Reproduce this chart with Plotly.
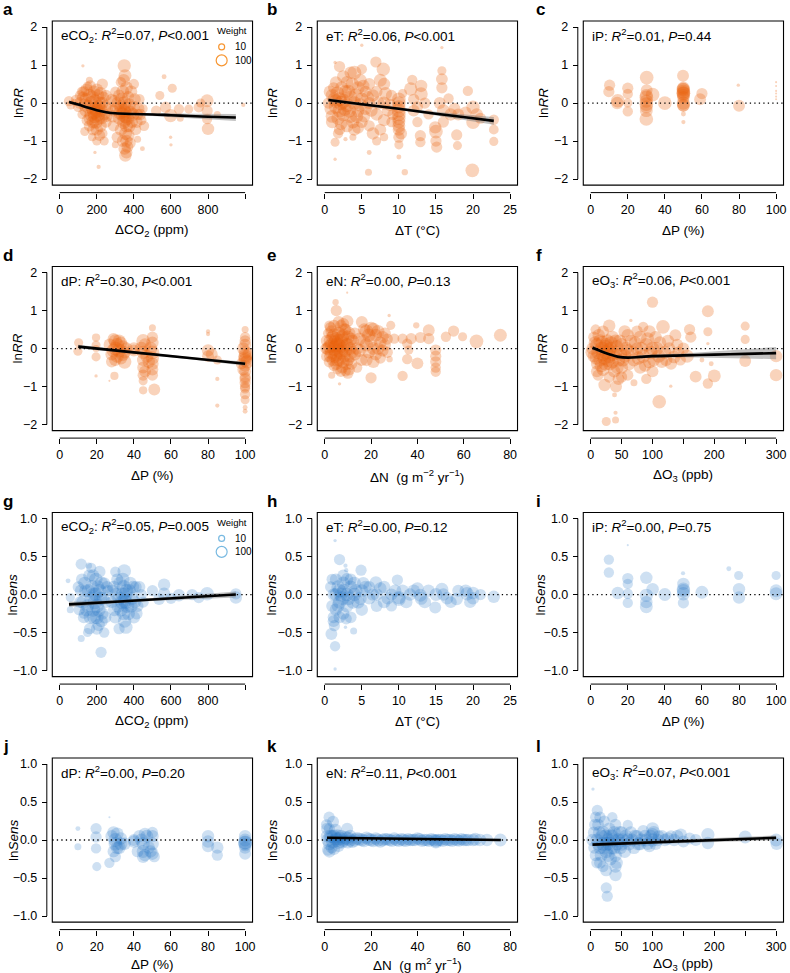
import math
import plotly.graph_objects as go

# ---------------- DATA (x, y, weight) ----------------
a_pts = [(50,0.05,30),(60,-0.05,20),(90,0.08,40),(100,-0.1,30),(110,0.0,50),(120,-0.3,20),(80,0.02,10),
 (130,0.3,40),(140,0.1,60),(140,-0.2,60),(150,-0.45,50),(150,0.45,20),(160,0.2,80),(160,-0.6,40),(170,0.0,100),
 (170,-0.3,90),(180,-0.15,100),(185,-0.25,100),(190,-0.35,100),(190,0.05,90),(195,-0.5,80),(200,-0.7,60),
 (200,0.35,60),(200,-0.2,100),(210,-0.1,90),(210,-0.4,80),(215,-0.85,40),(220,0.25,70),(220,-0.6,60),
 (230,0.0,60),(230,0.5,40),(240,-0.3,50),(240,-1.0,20),(250,0.2,40),(250,-0.5,40),(260,-0.15,30),
 (125,0.98,3),(210,-1.68,4),(160,0.6,10),(135,-0.75,20),(175,-0.9,15),(190,-1.3,3),
 (125,0.15,50),(135,-0.05,70),(145,0.35,60),(155,-0.1,90),(165,-0.4,80),(175,0.15,90),(180,-0.5,70),
 (185,0.3,60),(195,-0.15,110),(205,-0.3,110),(205,0.2,70),(215,0.0,80),(225,-0.2,80),(225,-0.4,60),
 (235,0.15,50),(245,-0.1,60),(255,-0.35,40),(180,-0.7,50),(165,0.45,40),(200,-1.0,20),(230,-0.8,30),
 (120,0.3,30),(110,0.2,30),
 (280,0.1,40),(290,-0.2,50),(290,-0.6,40),(300,0.3,30),(310,-0.9,40),(320,-0.4,60),(320,0.2,50),(330,-0.1,80),
 (340,-0.3,100),(345,-0.2,100),(350,-0.45,100),(350,0.0,90),(355,-0.35,100),(360,-0.6,80),(360,0.4,70),
 (348,0.98,80),(352,0.72,70),(355,-0.8,70),(360,-1.0,60),(354,-1.38,60),(365,-1.15,50),(370,0.15,60),
 (380,-0.25,80),(390,-0.5,50),(400,-0.1,50),(400,0.5,30),(410,-0.7,40),(420,-0.3,40),(430,0.1,30),
 (440,-0.45,30),(446,-1.2,5),(450,-0.15,20),(300,-1.1,10),(330,0.55,30),(420,-0.95,10),
 (285,-0.35,60),(295,0.05,60),(305,-0.15,70),(315,0.0,80),(325,-0.25,90),(335,0.1,80),(345,-0.5,90),
 (350,-0.25,110),(360,-0.15,100),(365,-0.4,90),(375,-0.05,80),(375,-0.6,70),(385,0.3,60),(395,-0.3,70),
 (405,0.1,50),(415,-0.5,50),(425,-0.15,50),(435,-0.3,40),(455,-0.6,30),(340,0.3,70),(345,0.6,60),
 (330,-0.7,60),(370,-0.85,60),(380,-1.05,40),(340,-1.0,50),(350,-1.2,60),(360,-1.3,50),
 (563,0.69,5),(607,0.39,20),(571,-0.11,40),(598,-0.33,80),(643,-0.16,30),(696,-0.16,20),(750,-0.11,30),
 (795,0.06,70),(795,-0.2,40),(795,-0.42,30),(800,-0.68,60),(598,-0.9,3),(600,-1.1,3),(990,-0.05,4),
 (520,-0.2,30),(540,0.2,20),(650,-0.4,10),(760,0.0,20),(850,-0.3,10)]
a_fit_x = [50, 100, 150, 200, 250, 300, 400, 500, 600, 700, 800, 950]
a_fit_y = [0.03, -0.04, -0.12, -0.19, -0.24, -0.27, -0.29, -0.30, -0.32, -0.34, -0.36, -0.38]
a_fit_se = [0.04, 0.03, 0.03, 0.03, 0.03, 0.03, 0.03, 0.04, 0.05, 0.06, 0.07, 0.09]

b_pts = [(0.5,0.0,40),(0.8,-0.15,60),(1,0.2,70),(1,-0.5,60),(1.2,0.4,40),(1.4,1.07,3),(1.4,-1.03,20),
 (1.4,-1.48,3),(1.5,-0.1,100),(1.5,0.05,90),(2,0.96,40),(2,0.1,100),(2,-0.2,100),(2.2,0.0,120),(2.5,0.05,120),
 (2.5,-0.3,90),(2.8,0.3,80),(3,-0.05,100),(3,-0.6,70),(3,0.55,60),(3.5,0.15,90),(3.5,-0.35,80),(4,0.8,100),
 (4,0.0,90),(4,-0.7,60),(4.5,0.4,80),(4.5,-0.2,70),(5,0.89,30),(5,0.1,80),(5,-0.5,50),(5,1.52,3),(5.5,-0.15,60),
 (5.5,0.3,50),(6,-0.6,40),(6,0.0,50),(5.9,-1.82,10),(6,-1.3,5),(3.8,-0.9,10),(2.8,-0.95,4),(1.8,-0.8,30),
 (0.7,0.3,60),(1,-0.35,70),(1.3,0.1,90),(1.7,0.25,100),(1.8,-0.4,80),(2.2,-0.55,60),(2.3,0.4,80),
 (2.7,-0.15,110),(3.2,0.3,90),(3.3,-0.2,100),(3.7,0.5,80),(3.8,-0.5,70),(4.2,0.2,90),(4.3,-0.35,80),
 (4.8,0.6,70),(4.8,-0.05,80),(5.2,0.45,60),(5.3,-0.35,60),(5.8,0.15,60),(6,0.5,50),(1.5,0.55,50),
 (2.5,0.7,60),(3.5,0.8,60),(4.5,-0.65,50),(2,-0.7,40),
 (6.9,1.08,40),(7.9,0.89,80),(7,-0.3,60),(7,0.3,50),(7.5,-0.7,50),(8,0.0,70),(8,0.5,60),(8.5,-0.2,50),
 (9,0.2,40),(9,-0.5,30),(6.5,-0.8,60),(6.3,-0.2,60),(6.5,0.2,60),(7.2,0.0,70),(7.5,0.6,70),(8,-0.45,60),
 (8.2,0.25,70),(8.8,-0.05,60),(9.2,-0.3,40),(7,-1.0,20),(8,-0.9,15),
 (10,0.1,90),(10,-0.1,80),(10,-0.3,90),(10,-0.5,70),(10,-0.7,60),(10,-0.9,40),(10,-1.1,20),(10,-1.42,5),
 (10.8,-1.82,8),(10.5,0.25,20),(10,0.0,90),(10,-0.2,90),(10,-0.4,80),(10,-0.6,70),(10.3,-0.8,50),
 (11.8,0.61,30),(11.6,0.37,80),(13,0.24,80),(12,-0.2,50),(12.5,-0.5,30),(12.9,-0.86,40),(12.9,-1.03,30),
 (13.5,0.0,40),(14,-0.3,30),(12,0.1,40),(13,0.45,60),(12.5,-0.1,40),
 (15.8,0.85,20),(15.8,0.63,50),(15.8,0.4,40),(15.8,1.46,3),(15,-0.75,90),(14.9,-0.64,60),(15,-1.0,40),
 (15.1,-1.16,40),(16.7,0.12,30),(16,-0.2,70),(17,-0.3,60),(15.5,0.0,50),(16,-0.5,40),(17.5,-0.15,50),
 (17.8,-0.84,40),(17.9,-1.12,20),(19.3,0.32,30),(20,-0.11,80),(20,-0.5,90),(19.9,-1.77,90),(22.8,-0.44,30),
 (22.8,-0.7,25),(22.8,-1.01,20),(18,-0.3,50),(21,-0.4,40),(19,-0.25,50),(20.5,-0.3,60)]
b_fit_x = [0.5, 5, 10, 15, 20, 22.8]
b_fit_y = [0.08, -0.03, -0.15, -0.28, -0.40, -0.47]
b_fit_se = [0.05, 0.03, 0.03, 0.05, 0.08, 0.10]

c_pts = [(10.2,0.47,40),(9.8,0.3,40),(14.6,0.06,90),(14.3,0.0,60),(20,0.39,40),(20,0.24,30),(20,0.0,20),
 (20,-0.22,30),(30.2,0.67,90),(30.2,0.34,50),(30,0.15,90),(30,-0.03,90),(30,-0.2,70),(30,-0.42,90),
 (30,0.05,80),(30,-0.1,70),(30,0.2,70),(33.4,0.22,90),(40,0.0,90),(49.8,0.72,50),(49.8,0.37,70),(50,0.26,90),
 (50,0.15,60),(50,-0.07,60),(50,-0.29,5),(50,-0.5,4),(50,0.3,90),(50,0.25,90),(50,0.35,80),(50,0.2,70),
 (50,0.4,60),(50,0.0,80),(50,-0.05,70),(60,0.25,40),(59,0.1,50),(79.6,0.47,3),(80,-0.07,50),
 (100,0.55,2),(100,0.45,2),(100,0.32,2),(100,0.25,2),(100,0.17,2),(100,0.1,2)]

d_pts = [(10.2,0.15,20),(9.8,-0.07,20),(19.6,0.29,15),(19.6,0.09,20),(19.6,0.0,10),(19.6,-0.22,20),
 (19.6,-0.72,3),(26.8,-0.85,2),(29.5,-0.72,15),(30,0.0,100),(32,-0.05,100),(30,0.2,80),(33,0.15,60),
 (28,-0.15,60),(35,-0.1,60),(30,-0.3,60),(35,-0.35,90),(31,0.1,90),(29,-0.05,90),(34,0.05,70),
 (27,0.1,60),(29,0.25,50),(31,-0.2,80),(32,0.2,70),(33,-0.25,70),(34,-0.15,90),(36,0.0,60),(28,-0.35,40),
 (40,0.0,60),(40,-0.05,50),(45,0.2,90),(45,-0.1,80),(45,-0.3,60),(45,-0.5,50),(45,-0.7,40),(45,-0.85,20),
 (45,-1.1,15),(50,0.3,40),(50,0.55,10),(50,0.15,60),(50,-0.1,90),(50,-0.4,60),(50,-0.55,50),(51,-1.08,50),
 (44,0.0,80),(46,0.1,70),(47,-0.2,70),(48,-0.35,60),(49,0.0,80),(46,-0.6,50),(50,-0.25,80),(50,-0.7,40),
 (80,0.45,4),(80,0.38,4),(80,-0.05,60),(80,-0.2,50),(85,-0.3,20),(85,-0.8,4),(85,-1.5,4),(82,-0.15,50),
 (100,0.5,10),(100,0.3,30),(100,0.1,50),(100,-0.1,70),(100,-0.2,90),(100,-0.25,90),(100,-0.3,80),
 (100,-0.45,60),(100,-0.6,50),(100,-0.75,40),(100,-0.9,40),(100,-1.05,30),(100,-1.2,30),(100,-1.35,20),
 (100,-1.55,5),(100,-1.65,5),(98,-0.4,40),(102,-0.15,60),(99,0.0,60),(101,-0.35,80),(100,0.2,40),
 (99,-0.55,50),(100,-0.8,40),(100,-1.0,30)]
d_fit_x = [10, 40, 70, 100]
d_fit_y = [0.05, -0.10, -0.25, -0.40]
d_fit_se = [0.05, 0.03, 0.03, 0.05]

e_pts = [(0.5,0.0,40),(1,0.2,60),(1,-0.2,50),(1.5,0.4,30),(2,0.05,80),(2,-0.35,40),(2.5,0.55,40),(3,0.1,100),
 (3,-0.1,100),(3.5,0.3,80),(4,0.0,120),(4.5,0.15,120),(5,0.05,130),(5,0.25,100),(5,-0.15,100),(5.5,0.1,120),
 (6,-0.05,100),(6,0.4,80),(6.5,-0.3,70),(7,0.2,90),(7,0.6,50),(7.5,-0.5,50),(8,0.0,80),(8,0.35,70),
 (8.5,-0.2,60),(9,0.5,50),(9.5,0.1,70),(9.7,0.72,60),(10,-0.3,60),(10,0.3,80),(10.5,-0.55,50),(11,0.0,70),
 (11.5,-0.4,50),(12,0.2,60),(4.7,1.22,8),(5,1.0,40),(9.7,1.47,2),(6.4,-0.93,3),(3,-0.7,10),(5.5,-0.55,30),
 (4,-0.45,40),(2,0.6,30),
 (1.5,0.0,80),(2.5,0.2,90),(2.5,-0.2,70),(3.5,-0.3,60),(4,0.35,90),(4.5,-0.2,100),(5.5,-0.3,80),(6,0.2,110),
 (6.5,0.05,110),(7,-0.1,100),(7.5,0.3,90),(8,-0.35,70),(8.5,0.5,60),(9,-0.05,90),(9.5,-0.4,60),(10,0.1,90),
 (10.5,0.4,70),(11,-0.2,70),(11.5,0.25,60),(12,-0.1,60),(4,0.6,50),(6,0.7,50),(3,0.45,60),(8,0.65,50),
 (5,-0.4,60),(7,-0.6,40),(9,-0.6,30),(10,-0.65,40),
 (13,0.4,50),(14,0.0,60),(15,0.25,70),(16,-0.3,50),(17,0.5,60),(18,0.1,80),(19,-0.1,60),(20,0.52,100),
 (20,0.2,70),(20,-0.77,40),(21,-0.35,60),(22,0.35,70),(23,0.0,60),(24,-0.25,40),(25,0.3,60),(26,0.1,50),
 (27,-0.1,40),(28.5,0.61,20),(27.8,0.87,3),(28,-0.28,8),(30,0.26,30),(16,0.7,50),(14,-0.5,30),
 (13,-0.15,60),(15,-0.05,70),(17,0.2,70),(18,-0.3,60),(19,0.35,80),(21,0.0,70),(22,-0.15,60),(24,0.15,60),
 (25,-0.05,50),(26,0.4,50),(18,0.45,90),(21,0.5,90),(23,0.45,70),(27,0.25,40),
 (33.6,0.26,30),(33.6,-0.72,30),(35.6,0.13,30),(35.6,-0.28,30),(36.3,-0.04,20),(39.5,0.61,8),(40,-0.39,50),
 (37.3,0.26,40),(41.3,0.29,40),(44.9,0.48,50),(44.9,0.26,40),(47.9,-0.04,40),(47.9,-0.2,40),(47.9,-0.35,40),
 (47.9,-0.5,30),(47.9,-0.61,30),(52.3,0.31,30),(55.6,0.46,40),(59.5,0.31,20),(65.5,0.19,90),(75.8,0.35,70)]

f_pts = [(3,0.0,60),(5,0.3,40),(5,-0.2,60),(8,0.5,30),(10,0.1,80),(10,-0.4,50),(12,-0.1,90),(15,0.2,80),
 (15,-0.3,80),(18,0.0,100),(20,-0.15,100),(20,0.45,50),(22,-0.25,100),(25,-0.1,110),(25,0.1,90),(28,-0.3,100),
 (30,-0.2,100),(30,0.6,60),(32,0.0,80),(35,-0.35,80),(35,0.3,70),(38,-0.6,60),(40,-0.1,90),(40,0.2,70),
 (45,-0.8,50),(45,-0.3,80),(50,0.1,80),(50,-0.5,70),(55,-0.2,80),(55,0.45,60),(60,-0.05,70),(60,-0.7,40),
 (65,0.2,60),(65,0.74,3),(70,-0.3,70),(75,0.0,60),(80,-0.5,60),(80,0.3,70),(85,0.57,30),(85,-0.2,90),
 (90,0.1,80),(95,-0.35,70),(100,1.22,40),(100,0.0,90),(100,-0.6,50),(105,0.3,60),(110,-0.2,80),
 (110.9,-1.4,90),(117,0.57,90),(120,-0.1,70),(125,0.2,60),(130,-0.4,50),(129.6,-0.99,3),(135,-0.22,70),
 (140,0.1,50),(145,-0.3,40),(156,-0.2,80),(160,0.5,40),(162,0.3,40),(22.5,-0.96,60),(41,-1.0,50),
 (38.6,-1.22,5),(40.2,-1.69,4),(25.2,-1.92,20),(40.2,-1.88,10),(12,-0.7,40),(30,-0.75,40),(70,-0.9,10),
 (90,-0.8,30),
 (2,-0.1,70),(7,0.15,70),(9,-0.25,80),(13,0.35,60),(17,-0.45,80),(19,0.15,100),(23,0.05,100),(24,-0.4,90),
 (27,0.2,80),(29,-0.05,110),(31,-0.4,90),(33,0.15,80),(36,-0.15,90),(42,0.05,80),(43,-0.5,70),(47,0.2,70),
 (48,-0.15,90),(52,-0.3,80),(57,0.0,80),(62,-0.4,70),(67,-0.1,80),(72,0.15,70),(77,-0.25,80),(82,0.0,90),
 (88,-0.45,60),(92,0.25,80),(97,-0.1,90),(102,-0.3,70),(107,0.0,80),(112,0.15,70),(115,-0.35,60),
 (122,-0.3,60),(127,0.0,60),(137,0.35,50),(142,-0.1,50),(150,0.0,50),(10,-0.6,50),(20,-0.55,70),
 (50,-0.75,40),(75,0.45,50),(60,0.35,60),(95,0.45,60),
 (169.8,-0.74,50),(189.6,0.98,50),(189.6,0.44,20),(189.6,0.13,3),(189.6,-0.92,30),(200,-0.72,70),
 (250,0.59,20),(250,0.24,20),(250,-0.33,50),(300,-0.2,60),(300,-0.7,60),(180,-0.3,5),(195,-0.4,5)]
f_fit_x = [3, 15, 30, 45, 60, 80, 100, 150, 200, 250, 300]
f_fit_y = [0.02, -0.06, -0.15, -0.22, -0.24, -0.22, -0.20, -0.18, -0.16, -0.14, -0.12]
f_fit_se = [0.06, 0.04, 0.03, 0.03, 0.03, 0.03, 0.04, 0.05, 0.08, 0.12, 0.16]

g_pts = [(45,0.18,5),(57,-0.04,20),(57,-0.2,10),(116,0.4,40),(157,0.38,8),(116,-0.58,10),(161,-0.45,40),
 (223,-0.76,40),(100,0.1,40),(110,-0.1,50),(120,0.2,50),(130,-0.3,50),(140,0.05,70),(150,-0.15,80),
 (160,0.25,60),(170,-0.05,90),(180,-0.2,100),(190,-0.1,110),(195,0.0,100),(200,-0.15,110),(200,-0.3,90),
 (205,0.1,80),(210,-0.4,60),(215,0.3,50),(220,-0.05,80),(230,-0.25,60),(240,0.15,50),(250,-0.1,50),
 (260,0.05,40),(170,0.35,30),(150,-0.5,20),(240,-0.5,30),(130,-0.25,30),
 (105,-0.2,40),(115,0.05,60),(125,-0.1,70),(135,0.15,70),(145,-0.2,80),(155,0.05,90),(165,-0.3,80),
 (175,0.1,90),(185,0.0,110),(185,-0.3,90),(195,0.2,80),(210,-0.2,100),(215,0.05,90),(225,0.15,70),
 (225,-0.35,60),(235,-0.05,70),(245,-0.3,60),(255,0.1,50),(200,-0.45,50),(180,0.25,60),
 (280,-0.1,50),(290,0.1,60),(300,-0.3,60),(310,0.2,50),(320,-0.05,80),(330,-0.2,90),(340,0.0,100),
 (350,-0.08,110),(355,-0.1,100),(360,0.05,90),(348,0.31,90),(357,-0.43,80),(370,-0.25,80),(380,0.15,70),
 (390,-0.05,70),(400,-0.3,60),(410,0.1,50),(420,-0.15,50),(440,0.0,40),(450,-0.1,40),(300,0.3,30),
 (320,-0.45,40),
 (285,0.05,60),(295,-0.2,70),(305,0.0,80),(315,-0.15,80),(325,0.15,80),(335,-0.1,100),(345,0.1,90),
 (345,-0.25,90),(355,0.0,110),(365,-0.15,100),(375,0.05,80),(385,-0.15,80),(395,0.1,60),(405,-0.1,60),
 (415,-0.25,50),(430,0.1,50),(350,-0.35,80),(340,0.2,80),
 (536,-0.06,50),(563,0.13,60),(563,0.01,60),(643,-0.01,60),(714,0.0,40),(750,-0.04,40),(795,0.01,90),
 (950,-0.04,60),(950,0.01,40),(500,0.05,40),(600,-0.05,40)]
g_fit_x = [50, 300, 500, 700, 950]
g_fit_y = [-0.13, -0.094, -0.065, -0.036, 0.0]
g_fit_se = [0.035, 0.02, 0.02, 0.025, 0.04]

h_pts = [(1.4,0.71,3),(2,0.46,40),(2.8,0.38,4),(2.9,0.32,4),(4.9,0.32,40),(0.9,-0.52,50),(1.3,-0.41,40),
 (1.2,-0.3,50),(1.4,-0.68,30),(1.4,-0.98,3),(3.9,-0.48,10),(2.8,-0.43,3),(2.9,-0.32,40),
 (0.8,0.1,40),(1,-0.15,50),(1,0.2,40),(1.5,0.0,70),(1.5,-0.2,60),(2,0.05,90),(2,-0.1,80),(2.2,0.0,100),
 (2.5,0.15,80),(2.5,-0.25,60),(3,0.0,90),(3,0.2,60),(3,-0.15,70),(3.5,0.1,70),(3.5,-0.3,50),(4,0.0,80),
 (4,0.15,70),(4.5,-0.1,70),(5,0.05,70),(5,-0.2,60),(5.5,0.1,60),(6,-0.05,60),(6,0.1,50),(7,0.0,60),
 (7,-0.15,50),(8,0.1,60),(8,-0.1,60),(9,0.0,50),(9,-0.15,40),(10.5,0.05,60),(11,-0.1,60),(12,0.05,60),
 (13,-0.05,70),(14,0.05,60),(16,0.0,60),(17,-0.1,50),(18,0.05,50),(20,-0.05,60),(21,0.0,40),
 (1.2,0.0,60),(1.8,0.1,80),(1.8,-0.15,70),(2.4,-0.05,100),(2.6,0.05,90),(3.2,-0.05,90),(3.8,-0.1,80),
 (4.2,0.05,80),(4.8,-0.05,70),(5.2,0.15,60),(6.5,0.0,60),(7.5,0.08,60),(8.5,-0.05,60),(9.5,0.05,60),
 (11.5,0.0,60),(12.5,0.08,60),(13.5,-0.1,60),(15,0.0,70),(16.5,-0.05,60),(19,0.05,60),(20,0.02,60),
 (1.5,0.2,50),(2.5,0.25,50),(3.5,0.2,50),(1.2,-0.35,50),(2,-0.3,50),
 (10,-0.06,90),(10,-0.04,80),(12.9,-0.01,70),(14.9,-0.17,50),(17.8,-0.06,60),(19.2,0.01,80),(22.8,-0.03,60),
 (9.8,0.19,40),(6.9,0.16,60),(15.8,0.07,70),(19.6,-0.1,50)]

i_pts = [(9.8,0.46,30),(9.8,0.29,30),(20,0.65,2),(14.6,0.02,60),(20,0.21,40),(20,0.14,30),(20,0.01,30),
 (20,-0.11,30),(30,0.22,60),(30,-0.01,80),(30,-0.1,60),(30,-0.16,70),(33.4,0.07,60),(40,0.0,70),
 (49.8,0.28,4),(50,0.14,60),(50,0.07,80),(50,0.05,80),(50,0.01,80),(50,-0.11,40),(60,0.03,70),
 (74.5,0.34,5),(79.8,0.25,20),(80,0.07,60),(80,-0.04,60),(100,0.25,20),(100,0.05,70),(100,0.01,70)]

j_pts = [(9.8,0.15,5),(9.8,-0.09,10),(19.6,0.15,40),(19.6,0.04,40),(19.6,-0.11,30),(20,-0.35,20),(26.8,0.3,2),
 (26.8,-0.3,30),(30,-0.22,40),(28,0.05,60),(30,0.0,100),(30,-0.05,90),(31,0.08,70),(32,-0.1,80),(33,0.02,60),
 (35,-0.05,60),(29,-0.15,50),(40,-0.02,60),(40,0.0,50),(43,0.05,60),(45,-0.05,80),(45,-0.15,70),(45,-0.22,60),
 (46,0.08,60),(48,-0.1,60),(50,0.05,60),(50,0.1,40),(50,-0.05,70),(50,-0.18,60),(51,-0.22,40),(42,-0.15,50),
 (44,0.0,70),(47,0.05,70),(49,-0.15,60),(46,-0.2,60),(31,-0.1,70),(29,0.1,60),(33,-0.05,80),
 (80,0.05,60),(80,-0.02,60),(80,-0.08,60),(85,-0.1,60),(85,-0.2,40),(100,0.05,60),(100,-0.04,100),
 (100,-0.03,90),(100,-0.06,80),(100,-0.1,60),(100,-0.18,50),(100,0.0,70)]

k_pts = [(1.9,0.3,40),(3.6,0.24,50),(4.6,0.13,70),(1.4,-0.13,50),(9.7,0.15,50),(1,0.05,60),(2,-0.05,70),
 (3,0.05,70),(5,0.0,100),(5,0.02,90),(6,-0.03,80),(7,0.05,70),(8,0.0,80),(10,0.02,100),(10,-0.02,90),
 (11,0.05,70),(12,-0.02,70),(14,0.02,70),(16,0.0,70),(18,0.03,60),(20,0.0,70),(22,0.02,60),(24,-0.02,60),
 (26,0.01,60),(28,0.0,60),(30,0.02,60),(32,-0.01,60),(34,0.0,70),(36,0.01,60),(38,0.0,60),(40,0.02,60),
 (42,-0.01,60),(44,0.0,60),(46,0.01,60),(48,-0.02,90),(48,-0.01,80),(50,0.0,60),(52,0.01,60),(54,0.0,60),
 (56,0.01,60),(58,-0.01,50),(60,0.0,60),(62,0.0,60),(65,0.01,70),(70,0.0,60),(75.8,0.0,70),(3,-0.1,50),
 (6,-0.08,50),(2,0.15,40),
 (1.5,0.0,80),(2.5,0.05,80),(3.5,-0.02,90),(4,0.05,90),(5.5,0.05,100),(6.5,0.02,90),(7.5,-0.02,90),
 (9,0.03,90),(11,0.0,80),(13,0.0,80),(15,0.01,70),(17,-0.01,70),(19,0.01,70),(21,-0.01,70),(23,0.0,70),
 (25,0.0,70),(27,0.01,60),(29,-0.01,60),(31,0.0,60),(33,0.01,60),(35,-0.01,60),(37,0.0,60),(39,0.0,60),
 (41,0.01,60),(43,0.0,60),(45,-0.01,60),(47,0.0,60),(49,0.0,60),(51,-0.01,60),(53,0.0,60),(55,-0.01,60),
 (57,0.0,60),(59,0.01,60),(61,0.0,60),(64,0.0,60),(67,0.0,60),(1,0.15,50),(2,-0.15,60),(4,-0.12,50),
 (0.8,0.2,40)]
k_fit_x = [1, 76]
k_fit_y = [0.03, 0.0]
k_fit_se = [0.015, 0.015]

l_pts = [(3.7,0.67,3),(10.7,0.39,40),(25.2,-0.63,40),(26.8,-0.74,40),(40.2,-0.46,60),
 (5,0.1,50),(8,-0.2,50),(10,0.0,70),(12,0.2,50),(15,-0.1,80),(15,-0.3,50),(18,0.05,70),(20,-0.05,90),
 (22,0.25,40),(25,-0.15,80),(28,0.0,90),(30,-0.05,100),(30,0.15,60),(32,-0.25,70),(35,0.05,80),(38,-0.1,90),
 (40,0.2,50),(42,-0.3,60),(45,0.0,80),(50,-0.05,90),(50,0.1,60),(55,-0.15,70),(60,0.0,80),(65,0.1,60),
 (70,-0.1,70),(75,0.05,60),(80,-0.05,70),(85,0.12,50),(90,0.0,70),(95,-0.08,60),(100,0.15,70),(100,0.07,80),
 (100,0.0,80),(105,-0.05,60),(110,0.05,50),(120,0.0,60),(130,0.05,50),(145.7,0.07,60),(150,-0.02,50),
 (170,0.0,50),(189.6,0.07,80),(189.6,-0.04,60),(250,0.04,70),(300,0.0,70),(301,-0.05,60),(10,-0.3,40),
 (20,-0.35,40),(35,0.3,30),(60,0.2,30),
 (3,0.0,60),(6,-0.1,60),(7,0.2,50),(12,-0.05,70),(14,0.1,70),(17,-0.2,70),(20,0.1,80),(22,-0.1,90),
 (24,0.05,90),(26,-0.05,100),(28,-0.2,80),(32,0.05,100),(34,-0.1,90),(36,0.0,90),(38,0.1,70),(40,-0.2,70),
 (43,-0.05,80),(47,0.1,70),(48,-0.1,80),(52,0.0,90),(57,0.05,80),(62,-0.05,80),(67,0.0,70),(72,0.05,70),
 (77,-0.05,70),(82,0.0,70),(88,0.05,70),(92,-0.05,60),(97,0.05,70),(102,0.1,70),(108,0.0,60),(115,0.05,60),
 (125,0.02,60),(135,0.0,60),(140,0.05,60),(160,0.02,50),(8,0.3,40),(15,0.3,40),(25,-0.4,50),(40,-0.35,60)]
l_fit_x = [3, 300]
l_fit_y = [-0.06, 0.03]
l_fit_se = [0.02, 0.03]

stats = {
 'a': "eCO<sub>2</sub>: <i>R</i><sup>2</sup>=0.07, <i>P</i>&lt;0.001",
 'b': "eT: <i>R</i><sup>2</sup>=0.06, <i>P</i>&lt;0.001",
 'c': "iP: <i>R</i><sup>2</sup>=0.01, <i>P</i>=0.44",
 'd': "dP: <i>R</i><sup>2</sup>=0.30, <i>P</i>&lt;0.001",
 'e': "eN: <i>R</i><sup>2</sup>=0.00, <i>P</i>=0.13",
 'f': "eO<sub>3</sub>: <i>R</i><sup>2</sup>=0.06, <i>P</i>&lt;0.001",
 'g': "eCO<sub>2</sub>: <i>R</i><sup>2</sup>=0.05, <i>P</i>=0.005",
 'h': "eT: <i>R</i><sup>2</sup>=0.00, <i>P</i>=0.12",
 'i': "iP: <i>R</i><sup>2</sup>=0.00, <i>P</i>=0.75",
 'j': "dP: <i>R</i><sup>2</sup>=0.00, <i>P</i>=0.20",
 'k': "eN: <i>R</i><sup>2</sup>=0.11, <i>P</i>&lt;0.001",
 'l': "eO<sub>3</sub>: <i>R</i><sup>2</sup>=0.07, <i>P</i>&lt;0.001",
}
xt_co2 = [0, 200, 400, 600, 800, 1000]; xl_co2 = ["0", "200", "400", "600", "800", ""]
xt_t = [0, 5, 10, 15, 20, 25]; xl_t = ["0", "5", "10", "15", "20", "25"]
xt_p = [0, 20, 40, 60, 80, 100]; xl_p = ["0", "20", "40", "60", "80", "100"]
xt_n = [0, 20, 40, 60, 80]; xl_n = ["0", "20", "40", "60", "80"]
xt_o3 = [0, 50, 100, 150, 200, 250, 300]; xl_o3 = ["0", "50", "100", "", "200", "", "300"]
yt_rr = [-2, -1, 0, 1, 2]; yl_rr = ["\u22122", "\u22121", "0", "1", "2"]
yt_s = [-1, -0.5, 0, 0.5, 1]; yl_s = ["\u22121.0", "\u22120.5", "0.0", "0.5", "1.0"]
legend_weights = [10, 100]

# ---------------- LAYOUT ----------------
W, H = 790, 973
COL_L = [52.5, 318.5, 585.5]
ROW_T = [20, 266, 512.5, 758.5]
BW, BH = 201, 164.5
XTITLE_GAP = [45, 45, 45, 42]
FONT = "Liberation Sans, Arial, Helvetica, sans-serif"
ORANGE = "rgba(232,96,10,0.40)"
BLUE = "rgba(35,115,195,0.32)"
ORANGE_LINE = "rgb(247,150,50)"
BLUE_LINE = "rgb(120,185,225)"
LEGEND_DIAM = [6, 11]
YTITLE_X = [[18, 273, 545], [18, 273, 545], [13, 273, 543], [13, 273, 543]]
LETTER_X = [1.5, 266.5, 536]

XT = "\u0394"
panels = [
 ('a', 0, 0, a_pts, (a_fit_x, a_fit_y, a_fit_se), [-40, 1040], xt_co2, xl_co2, XT + "CO<sub>2</sub> (ppm)", 'rr', True),
 ('b', 0, 1, b_pts, (b_fit_x, b_fit_y, b_fit_se), [-1, 26], xt_t, xl_t, XT + "T (\u00b0C)", 'rr', False),
 ('c', 0, 2, c_pts, None, [-4, 104], xt_p, xl_p, XT + "P (%)", 'rr', False),
 ('d', 1, 0, d_pts, (d_fit_x, d_fit_y, d_fit_se), [-4, 104], xt_p, xl_p, XT + "P (%)", 'rr', False),
 ('e', 1, 1, e_pts, None, [-3.2, 83.2], xt_n, xl_n, XT + "N  (g m<sup>\u22122</sup> yr<sup>\u22121</sup>)", 'rr', False),
 ('f', 1, 2, f_pts, (f_fit_x, f_fit_y, f_fit_se), [-12, 312], xt_o3, xl_o3, XT + "O<sub>3</sub> (ppb)", 'rr', False),
 ('g', 2, 0, g_pts, (g_fit_x, g_fit_y, g_fit_se), [-40, 1040], xt_co2, xl_co2, XT + "CO<sub>2</sub> (ppm)", 's', True),
 ('h', 2, 1, h_pts, None, [-1, 26], xt_t, xl_t, XT + "T (\u00b0C)", 's', False),
 ('i', 2, 2, i_pts, None, [-4, 104], xt_p, xl_p, XT + "P (%)", 's', False),
 ('j', 3, 0, j_pts, None, [-4, 104], xt_p, xl_p, XT + "P (%)", 's', False),
 ('k', 3, 1, k_pts, (k_fit_x, k_fit_y, k_fit_se), [-3.2, 83.2], xt_n, xl_n, XT + "N  (g m<sup>2</sup> yr<sup>\u22121</sup>)", 's', False),
 ('l', 3, 2, l_pts, (l_fit_x, l_fit_y, l_fit_se), [-12, 312], xt_o3, xl_o3, XT + "O<sub>3</sub> (ppb)", 's', False),
]


def msize(w):
    return max(2.0, 7.0 * math.log10(w))


fig = go.Figure()
layout = dict(width=W, height=H, margin=dict(l=0, r=0, t=0, b=0), paper_bgcolor="white",
              plot_bgcolor="rgba(0,0,0,0)", showlegend=False, font=dict(family=FONT, color="black"))
shapes, annos = [], []

for n, (letter, r, c, pts, fit, xr, xt, xl, xtitle, kind, leg) in enumerate(panels, start=1):
    sfx = "" if n == 1 else str(n)
    left, top = COL_L[c], ROW_T[r]
    x0p, x1p = left / W, (left + BW) / W
    y1p, y0p = 1 - top / H, 1 - (top + BH) / H
    xpos = 1 - (top + BH + 7.5) / H
    ypos = (left - 5.5) / W
    yr = [-2.16, 2.16] if kind == 'rr' else [-1.08, 1.08]
    yt, yl = (yt_rr, yl_rr) if kind == 'rr' else (yt_s, yl_s)
    col = ORANGE if kind == 'rr' else BLUE
    lcol = ORANGE_LINE if kind == 'rr' else BLUE_LINE
    xa, ya = f"x{sfx}", f"y{sfx}"
    layout[f"xaxis{sfx}"] = dict(domain=[x0p, x1p], range=xr, anchor="free", position=xpos,
        tickvals=xt, ticktext=xl, ticks="outside", ticklen=5, tickwidth=1, tickcolor="black",
        showline=False, showgrid=False, zeroline=False, tickfont=dict(size=12.5, family=FONT),
        ticklabelstandoff=0, fixedrange=True)
    layout[f"yaxis{sfx}"] = dict(domain=[y0p, y1p], range=yr, anchor="free", position=ypos,
        tickvals=yt, ticktext=yl, ticks="outside", ticklen=5, tickwidth=1, tickcolor="black",
        showline=False, showgrid=False, zeroline=False, tickfont=dict(size=12.5, family=FONT),
        ticklabelstandoff=2, fixedrange=True)

    # points
    fig.add_trace(go.Scatter(x=[p[0] for p in pts], y=[p[1] for p in pts], xaxis=xa, yaxis=ya,
        mode="markers", hoverinfo="skip",
        marker=dict(size=[msize(p[2]) for p in pts], color=col, line=dict(width=0))))
    # fit
    if fit is not None:
        fx, fy, fs = fit
        fig.add_trace(go.Scatter(x=list(fx) + list(fx)[::-1],
            y=[a + b for a, b in zip(fy, fs)] + [a - b for a, b in zip(fy, fs)][::-1],
            xaxis=xa, yaxis=ya, mode="lines", fill="toself", fillcolor="rgba(120,120,120,0.45)",
            line=dict(width=0), hoverinfo="skip"))
        fig.add_trace(go.Scatter(x=fx, y=fy, xaxis=xa, yaxis=ya, mode="lines",
            line=dict(color="black", width=2.6, shape="spline"), hoverinfo="skip"))

    # box, zero line, axis lines
    shapes.append(dict(type="rect", xref=f"{xa} domain", yref=f"{ya} domain", x0=0, x1=1, y0=0, y1=1,
                       line=dict(color="black", width=1.1), layer="above"))
    shapes.append(dict(type="line", xref=f"{xa} domain", yref=ya, x0=0, x1=1, y0=0, y1=0,
                       line=dict(color="black", width=1.3, dash="1.3px,3.2px"), layer="above"))
    shapes.append(dict(type="line", xref=xa, yref="paper", x0=xt[0], x1=xt[-1], y0=xpos, y1=xpos,
                       line=dict(color="black", width=1)))
    shapes.append(dict(type="line", xref="paper", yref=ya, x0=ypos, x1=ypos, y0=yt[0], y1=yt[-1],
                       line=dict(color="black", width=1)))

    # texts
    annos.append(dict(text=f"<b>{letter}</b>", xref="paper", yref="paper", x=LETTER_X[c] / W,
                      y=1 - (top - 11) / H, xanchor="left", yanchor="middle", showarrow=False,
                      font=dict(size=17, family=FONT)))
    annos.append(dict(text=stats[letter], xref=f"{xa} domain", yref=f"{ya} domain", x=6.5 / BW,
                      y=1 - 14 / BH, xanchor="left", yanchor="middle", showarrow=False,
                      font=dict(size=13.5, family=FONT)))
    annos.append(dict(text=xtitle, xref="paper", yref="paper", x=(left + BW / 2) / W,
                      y=1 - (top + BH + XTITLE_GAP[r]) / H, xanchor="center", yanchor="middle",
                      showarrow=False, font=dict(size=13.5, family=FONT)))
    ytxt = "ln<i>RR</i>" if kind == 'rr' else "ln<i>Sens</i>"
    annos.append(dict(text=ytxt, xref="paper", yref="paper", x=YTITLE_X[r][c] / W,
                      y=1 - (top + BH / 2) / H, xanchor="center", yanchor="middle", showarrow=False,
                      textangle=-90, font=dict(size=13.5, family=FONT)))
    if leg:
        annos.append(dict(text="Weight", xref=f"{xa} domain", yref=f"{ya} domain", x=180.5 / BW,
                          y=1 - 10 / BH, xanchor="center", yanchor="middle", showarrow=False,
                          font=dict(size=9.5, family=FONT)))
        for k, wv in enumerate(legend_weights):
            cy = 26 + 13.5 * k
            rad = LEGEND_DIAM[k] / 2
            cx = 170
            shapes.append(dict(type="circle", xref=f"{xa} domain", yref=f"{ya} domain",
                               x0=(cx - rad) / BW, x1=(cx + rad) / BW,
                               y0=1 - (cy + rad) / BH, y1=1 - (cy - rad) / BH,
                               line=dict(color=lcol, width=1.2)))
            annos.append(dict(text=str(wv), xref=f"{xa} domain", yref=f"{ya} domain", x=181 / BW,
                              y=1 - cy / BH, xanchor="left", yanchor="middle", showarrow=False,
                              font=dict(size=10, family=FONT)))

layout["shapes"] = shapes
layout["annotations"] = annos
fig.update_layout(**layout)
fig.write_html("out.html", config={"displayModeBar": False},
               post_script="document.body.style.margin='0px';document.body.style.overflow='hidden';")
